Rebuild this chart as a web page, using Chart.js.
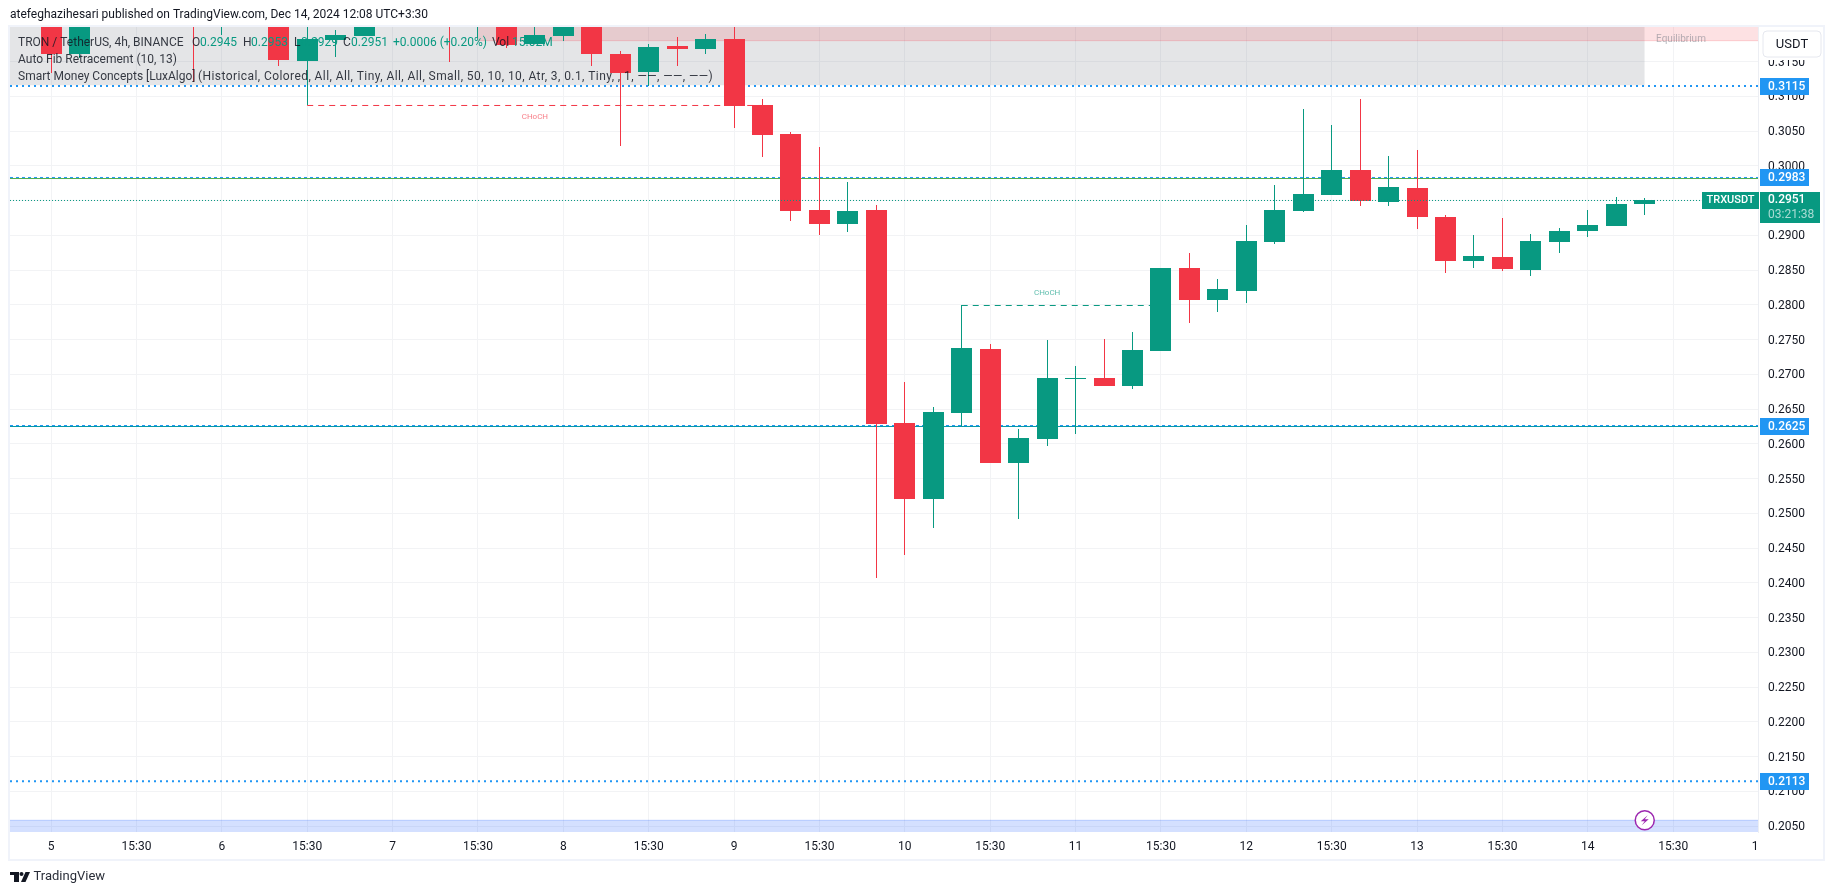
<!DOCTYPE html>
<html>
<head>
<meta charset="utf-8">
<title>TRXUSDT 4h</title>
<script src="https://cdn.jsdelivr.net/npm/chart.js@4/dist/chart.umd.min.js"></script>
<style>
    html, body { margin: 0; padding: 0; background: #fff; overflow: hidden; }
    canvas { display: block; }
</style>
</head>
<body>
<canvas id="priceChart" width="1835" height="895"></canvas>
<script>
// Candles, bar 0 = Dec 5. Bars above the visible range are estimates.
const opens = [0.3235, 0.3161, 0.3240, 0.3262, 0.3250, 0.3238, 0.3215, 0.3228, 0.3245, 0.3151,
    0.3181, 0.3187, 0.3215, 0.3230, 0.3222, 0.3210, 0.3225, 0.3175, 0.3187, 0.3205,
    0.3161, 0.3135, 0.3172, 0.3168, 0.3182, 0.3087, 0.3046, 0.2936, 0.2916, 0.2936,
    0.2630, 0.2521, 0.2644, 0.2736, 0.2572, 0.2607, 0.2694, 0.2695, 0.2683, 0.2734,
    0.2853, 0.2807, 0.2820, 0.2890, 0.2935, 0.2958, 0.2994, 0.2948, 0.2968, 0.2926,
    0.2863, 0.2869, 0.2850, 0.2890, 0.2906, 0.2913, 0.2945];
const highs = [0.3250, 0.3252, 0.3275, 0.3285, 0.3265, 0.3248, 0.3240, 0.3258, 0.3255, 0.3215,
    0.3195, 0.3235, 0.3240, 0.3245, 0.3235, 0.3240, 0.3235, 0.3205, 0.3215, 0.3215,
    0.3165, 0.3175, 0.3185, 0.3190, 0.3205, 0.3096, 0.3049, 0.3027, 0.2977, 0.2944,
    0.2689, 0.2653, 0.2799, 0.2744, 0.2621, 0.2749, 0.2712, 0.2751, 0.2761, 0.2853,
    0.2875, 0.2837, 0.2915, 0.2972, 0.3082, 0.3059, 0.3096, 0.3014, 0.3023, 0.2929,
    0.2900, 0.2925, 0.2902, 0.2911, 0.2936, 0.2955, 0.2953];
const lows = [0.3134, 0.3155, 0.3228, 0.3235, 0.3222, 0.3121, 0.3188, 0.3212, 0.3144, 0.3087,
    0.3157, 0.3187, 0.3208, 0.3206, 0.3150, 0.3184, 0.3170, 0.3175, 0.3180, 0.3144,
    0.3029, 0.3115, 0.3144, 0.3161, 0.3055, 0.3012, 0.2921, 0.2900, 0.2905, 0.2407,
    0.2440, 0.2479, 0.2626, 0.2572, 0.2492, 0.2597, 0.2614, 0.2683, 0.2679, 0.2734,
    0.2774, 0.2790, 0.2803, 0.2888, 0.2933, 0.2958, 0.2942, 0.2942, 0.2909, 0.2846,
    0.2853, 0.2849, 0.2841, 0.2875, 0.2898, 0.2913, 0.2929];
const closes = [0.3161, 0.3240, 0.3262, 0.3250, 0.3238, 0.3215, 0.3228, 0.3245, 0.3152, 0.3182,
    0.3188, 0.3215, 0.3230, 0.3222, 0.3210, 0.3225, 0.3174, 0.3188, 0.3205, 0.3161,
    0.3134, 0.3171, 0.3168, 0.3182, 0.3086, 0.3044, 0.2935, 0.2916, 0.2935, 0.2629,
    0.2521, 0.2646, 0.2738, 0.2572, 0.2608, 0.2695, 0.2695, 0.2683, 0.2735, 0.2853,
    0.2807, 0.2823, 0.2892, 0.2936, 0.2959, 0.2994, 0.2949, 0.2970, 0.2926, 0.2863,
    0.2870, 0.2852, 0.2892, 0.2906, 0.2915, 0.2945, 0.2951];

const timeLabels = ['5', '15:30', '6', '15:30', '7', '15:30', '8', '15:30', '9', '15:30', '10',
    '15:30', '11', '15:30', '12', '15:30', '13', '15:30', '14', '15:30', '15'];
const priceTicks = [0.205, 0.21, 0.215, 0.22, 0.225, 0.23, 0.235, 0.24, 0.245, 0.25, 0.255, 0.26,
    0.265, 0.27, 0.275, 0.28, 0.285, 0.29, 0.295, 0.3, 0.305, 0.31, 0.315];

// [price where the line sits, text on its tag]
const dottedLevels = [[0.31148, '0.3115'], [0.21144, '0.2113']];
const thinLevels = [[0.29832, '0.2983'], [0.26263, '0.2625']];
const greenLevel = 0.29817;
const tealLevel = 0.26249;
const lastPrice = 0.29501;
const lastPriceLabel = '0.2951';
// [from bar, to bar, price, bar the label sits over]
const redChoch = [9, 25, 0.30868, 17];
const greenChoch = [32, 39, 0.2799, 35];
const premiumZone = [15, 0.3180, 0.3220];
const greyZone = [56, 0.3116, 0.3220];
const discountZone = [0.20583, 0.2000];

const xMin = -1.444;
const xMax = 59.98;
const UP = '#089981';
const DOWN = '#f23645';
const BLUE = '#2196f3';
const TEXT = '#131722';
const FONT = 'Roboto, sans-serif';

const barIndex = opens.map((_, i) => i);
const candleColors = barIndex.map(i => closes[i] >= opens[i] ? UP : DOWN);

function hLine(x1, x2, y, color, width, dash, order) {
    return {
        type: 'line',
        data: [{ x: x1, y: y }, { x: x2, y: y }],
        borderColor: color,
        borderWidth: width,
        borderDash: dash,
        pointRadius: 0,
        order: order
    };
}

function zone(x1, x2, top, bottom, fillColor) {
    return {
        type: 'line',
        data: [{ x: x1, y: top }, { x: x2, y: top }],
        borderWidth: 0,
        backgroundColor: fillColor,
        fill: { value: bottom },
        pointRadius: 0,
        order: 9
    };
}

// bars sit on whole pixels, same as the trading terminal does it
const snapBars = {
    id: 'snapBars',
    beforeDatasetsDraw(chart) {
        chart.getSortedVisibleDatasetMetas().forEach(meta => {
            if (meta.type !== 'bar') return;
            meta.data.forEach(el => {
                el.x = Math.floor(el.x) + 0.5;
                el.y = Math.round(el.y);
                el.base = Math.round(el.base);
                if (el.y === el.base) el.base = el.y + 1;
            });
        });
    }
};

function drawText(ctx, str, x, y, color, font, align) {
    ctx.font = font || ('12px ' + FONT);
    ctx.fillStyle = color || TEXT;
    ctx.textAlign = align || 'left';
    ctx.textBaseline = 'middle';
    ctx.fillText(str, x, y);
}

function badge(ctx, x, y, w, h, color) {
    ctx.fillStyle = color;
    ctx.fillRect(x, y, w, h);
}

const frame = {
    id: 'frame',
    beforeDraw(chart) {
        const ctx = chart.ctx;
        ctx.save();
        ctx.strokeStyle = '#f0f3fa';
        ctx.lineWidth = 2;
        ctx.strokeRect(9, 26, 1815, 834);
        ctx.restore();
    }
};

const overlay = {
    id: 'overlay',
    afterDatasetsDraw(chart) {
        const ctx = chart.ctx;
        const x = chart.scales.x;
        const y = chart.scales.y;
        ctx.save();

        // zone and structure labels
        drawText(ctx, 'CHoCH', x.getPixelForValue(redChoch[3]), y.getPixelForValue(redChoch[2]) + 12,
            'rgba(242,54,69,0.65)', '8px ' + FONT, 'center');
        drawText(ctx, 'CHoCH', x.getPixelForValue(greenChoch[3]), y.getPixelForValue(greenChoch[2]) - 12,
            'rgba(8,153,129,0.65)', '8px ' + FONT, 'center');
        drawText(ctx, 'Equilibrium', 1681, 39, 'rgba(120,123,134,0.55)', '10px ' + FONT, 'center');

        // purple bolt marker
        const bx = x.getPixelForValue(56);
        const by = y.getPixelForValue(discountZone[0]);
        ctx.beginPath();
        ctx.arc(bx, by, 9.5, 0, Math.PI * 2);
        ctx.fillStyle = '#fff';
        ctx.fill();
        ctx.strokeStyle = '#9c27b0';
        ctx.lineWidth = 1.5;
        ctx.stroke();
        ctx.beginPath();
        ctx.moveTo(bx + 3, by - 5);
        ctx.lineTo(bx - 4, by + 1);
        ctx.lineTo(bx, by + 1);
        ctx.lineTo(bx - 3, by + 5);
        ctx.lineTo(bx + 4, by - 1);
        ctx.lineTo(bx, by - 1);
        ctx.closePath();
        ctx.fillStyle = '#9c27b0';
        ctx.fill();

        // chart legend
        const dark = 'rgba(19,23,34,0.85)';
        drawText(ctx, 'TRON / TetherUS, 4h, BINANCE', 18, 43, dark);
        [['O', 192, dark], ['0.2945', 200, UP], ['H', 243, dark], ['0.2953', 251, UP],
         ['L', 294, dark], ['0.2929', 301, UP], ['C', 343, dark], ['0.2951', 351, UP],
         ['+0.0006 (+0.20%)', 393, UP], ['Vol', 492, dark], ['15.02M', 512, UP]].forEach(p => {
            drawText(ctx, p[0], p[1], 43, p[2]);
        });
        drawText(ctx, 'Auto Fib Retracement (10, 13)', 18, 60, dark);
        drawText(ctx, 'Smart Money Concepts [LuxAlgo]', 18, 77, dark);
        ctx.letterSpacing = '0.42px';
        drawText(ctx, '(Historical, Colored, All, All, Tiny, All, All, Small, 50, 10, 10, Atr, 3, 0.1, Tiny, , 1, \u2014\u2014, \u2014\u2014, \u2014\u2014)', 198, 77, dark);
        ctx.letterSpacing = '0px';

        // time axis cut off by the price scale
        ctx.fillStyle = '#fff';
        ctx.fillRect(1758, 834, 64, 24);

        // price scale tags
        dottedLevels.concat(thinLevels).forEach(level => {
            const py = y.getPixelForValue(level[0]);
            badge(ctx, 1760, Math.round(py) - 8, 49, 17, BLUE);
            drawText(ctx, level[1], 1768, Math.round(py) + 0.5, '#fff', '500 12px ' + FONT);
        });
        const ly = y.getPixelForValue(lastPrice);
        badge(ctx, 1760, 192, 60, 31, UP);
        badge(ctx, 1702, 192, 57, 17, UP);
        drawText(ctx, 'TRXUSDT', 1706.5, ly, '#fff', '500 11px ' + FONT);
        drawText(ctx, lastPriceLabel, 1768, ly, '#fff', '500 12px ' + FONT);
        drawText(ctx, '03:21:38', 1768, 215, 'rgba(255,255,255,0.65)', '12px ' + FONT);

        // currency button, its white area eats the top of the next price label
        ctx.fillStyle = '#fff';
        ctx.fillRect(1760, 28, 63, 32);
        ctx.beginPath();
        ctx.roundRect(1763, 31, 58, 26, 4);
        ctx.strokeStyle = '#e6e8ef';
        ctx.lineWidth = 1;
        ctx.stroke();
        drawText(ctx, 'USDT', 1792, 44.5, TEXT, '13px ' + FONT, 'center');

        // header and footer
        drawText(ctx, 'atefeghazihesari published on TradingView.com, Dec 14, 2024 12:08 UTC+3:30', 10, 15, TEXT);
        ctx.fillStyle = '#131722';
        ctx.fillRect(10, 872, 9, 3);
        ctx.fillRect(14, 872, 5, 10);
        ctx.beginPath();
        ctx.arc(21.5, 874, 2, 0, Math.PI * 2);
        ctx.fill();
        ctx.beginPath();
        ctx.moveTo(25.5, 872);
        ctx.lineTo(30, 872);
        ctx.lineTo(25.5, 882);
        ctx.lineTo(21, 882);
        ctx.closePath();
        ctx.fill();
        drawText(ctx, 'TradingView', 33.5, 877, '#2a2e39', '13px ' + FONT);

        ctx.restore();
    }
};

const datasets = [
    hLine(xMin, 58, lastPrice, UP, 1, [1, 2], 0),
    {
        data: barIndex.map(i => ({ x: i, y: [opens[i], closes[i]] })),
        backgroundColor: candleColors,
        barThickness: 21,
        inflateAmount: 0,
        grouped: false,
        order: 1
    },
    {
        data: barIndex.map(i => ({ x: i, y: [lows[i], highs[i]] })),
        backgroundColor: candleColors,
        barThickness: 1,
        inflateAmount: 0,
        grouped: false,
        order: 2
    },
    hLine(redChoch[0], redChoch[1], redChoch[2], DOWN, 1, [6, 5], 4),
    hLine(greenChoch[0], greenChoch[1], greenChoch[2], UP, 1, [6, 5], 4),
    hLine(xMin, xMax, greenLevel, '#4caf50', 1, [], 5),
    hLine(xMin, xMax, tealLevel, '#0097a7', 1, [], 5),
    hLine(xMin, xMax, thinLevels[0][0], BLUE, 1, [3, 3], 6),
    hLine(xMin, xMax, thinLevels[1][0], BLUE, 1, [3, 3], 6),
    hLine(xMin, xMax, dottedLevels[0][0], BLUE, 2, [2, 4], 6),
    hLine(xMin, xMax, dottedLevels[1][0], BLUE, 2, [2, 4], 6),
    hLine(premiumZone[0], xMax, premiumZone[1], 'rgba(242,54,69,0.2)', 1, [], 7),
    hLine(xMin, xMax, discountZone[0], 'rgba(41,98,255,0.25)', 1, [], 7),
    zone(premiumZone[0], xMax, premiumZone[2], premiumZone[1], 'rgba(242,54,69,0.15)'),
    zone(xMin, greyZone[0], greyZone[2], greyZone[1], 'rgba(120,123,134,0.2)'),
    zone(xMin, xMax, discountZone[0], discountZone[1], 'rgba(41,98,255,0.2)')
];

new Chart(document.getElementById('priceChart').getContext('2d'), {
    type: 'bar',
    data: { datasets: datasets },
    plugins: [frame, snapBars, overlay],
    options: {
        responsive: false,
        animation: false,
        layout: { padding: { left: 10, right: 11, top: 27, bottom: 35 } },
        plugins: {
            legend: { display: false },
            tooltip: { enabled: false }
        },
        scales: {
            x: {
                type: 'linear',
                offset: false,
                min: xMin,
                max: xMax,
                afterFit: scale => { scale.height = 28; },
                afterBuildTicks: scale => {
                    scale.ticks = timeLabels.map((_, i) => ({ value: i * 3 }));
                },
                grid: { color: '#f2f3f5', drawTicks: false, offset: false },
                border: { display: false },
                ticks: {
                    autoSkip: false,
                    maxRotation: 0,
                    padding: 8,
                    color: TEXT,
                    font: { family: FONT, size: 12 },
                    callback: value => timeLabels[value / 3]
                }
            },
            y: {
                position: 'right',
                min: 0.204144,
                max: 0.319971,
                afterFit: scale => { scale.width = 66; },
                afterBuildTicks: scale => {
                    scale.ticks = priceTicks.map(v => ({ value: v }));
                },
                grid: { color: '#f2f3f5', drawTicks: false },
                border: { color: '#eceef3' },
                ticks: {
                    padding: 10,
                    labelOffset: 1,
                    color: TEXT,
                    font: { family: FONT, size: 12 },
                    callback: value => value.toFixed(4)
                }
            }
        }
    }
});
</script>
</body>
</html>
